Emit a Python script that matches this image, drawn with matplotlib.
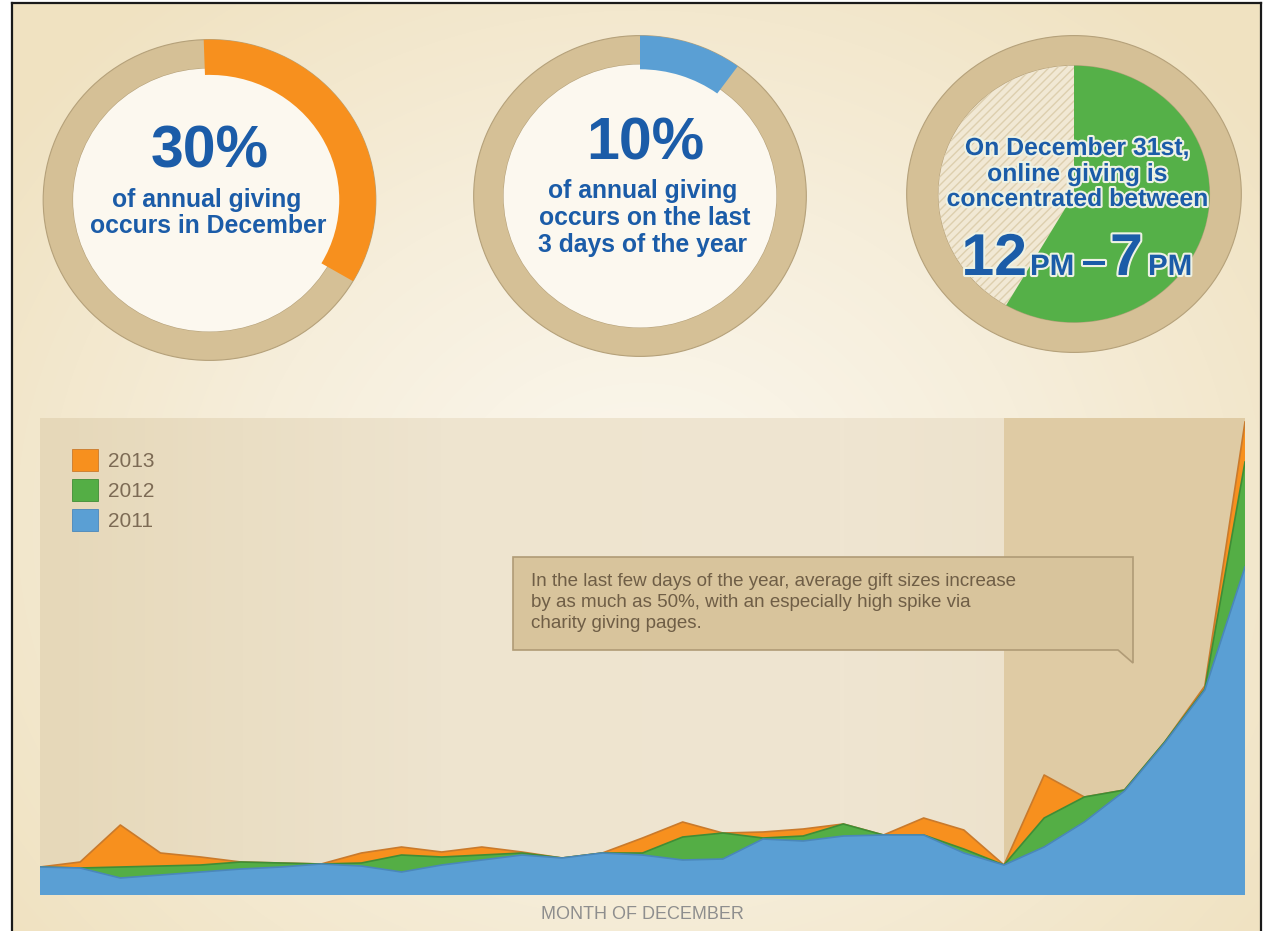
import numpy as np
import matplotlib.pyplot as plt
from matplotlib import font_manager as fm
from matplotlib.patches import Wedge, Circle, Polygon, Patch
from matplotlib.colors import LinearSegmentedColormap
import matplotlib.patheffects as pe

W, H = 1264, 931

# ---------------------------------------------------------------------------
# data
days = np.arange(1, 32)
giving_2011 = [28, 27, 17, 20, 23, 26, 28, 31, 29, 23, 30, 35, 40, 37, 42, 40,
               35, 36, 56, 54, 59, 60, 60, 42, 30, 48, 73, 104, 152, 205, 328]
giving_2012 = [28, 27, 28, 29, 30, 33, 32, 31, 32, 40, 38, 40, 42, 37, 42, 42,
               58, 62, 57, 59, 71, 60, 60, 46, 30, 77, 98, 105, 153, 206, 433]
giving_2013 = [28, 33, 70, 42, 38, 33, 32, 31, 42, 48, 43, 48, 43, 37, 42, 57,
               73, 62, 63, 66, 71, 60, 77, 65, 30, 120, 98, 105, 153, 209, 473]
years = ['2013', '2012', '2011']
last_days_from = 25

share_december = 30
share_last3 = 10
arc_fraction = [0.34, 0.10, 7 / 12]   # arc lengths as drawn in the rings

note = ("In the last few days of the year, average gift sizes increase\n"
        "by as much as 50%, with an especially high spike via\n"
        "charity giving pages.")

# ---------------------------------------------------------------------------
year_colors = ['#f7901e', '#54ae45', '#5a9fd4']
year_edges = ['#c97a2c', '#3f8d36', '#4a87ba']
tan = '#d5c096'
ring_edge = '#b5a17a'
txt_blue = '#1b5ca8'

names = {f.name for f in fm.fontManager.ttflist}
if 'Liberation Sans Narrow' in names:
    cond, k = 'Liberation Sans Narrow', 1.0
else:
    cond, k = 'Liberation Sans', 0.85
plt.rcParams['font.family'] = ['Liberation Sans', 'DejaVu Sans']


def box(x0, y0, w, h):
    return [x0 / W, 1 - (y0 + h) / H, w / W, h / H]


fig = plt.figure(figsize=(W / 100, H / 100), dpi=100, facecolor='white')

# background canvas in pixel coordinates
bg = fig.add_axes([0, 0, 1, 1], zorder=0)
bg.set_xlim(0, W)
bg.set_ylim(H, 0)
bg.axis('off')
yy, xx = np.mgrid[4:H:4, 13:1261:4]
d = np.sqrt(((xx - 640) / 720.0) ** 2 + ((yy - 520) / 620.0) ** 2)
bg_cmap = LinearSegmentedColormap.from_list('bg', ['#fcf8ef', '#f6eedb', '#f0e2c1'])
bg.imshow(d, extent=(13, 1261, H, 4), cmap=bg_cmap, vmin=0, vmax=1.1,
          aspect='auto', interpolation='bilinear')
bg.plot([12, 12], [H, 3], color='#1a1a1a', lw=1.6)
bg.plot([12, 1261], [3, 3], color='#1a1a1a', lw=1.6)
bg.plot([1261, 1261], [3, H], color='#1a1a1a', lw=1.6)


# ---------------------------------------------------------------------------
# the three rings
def ring_axes(cx, cy, rx, ry):
    a = fig.add_axes(box(cx - rx, cy - ry, 2 * rx, 2 * ry), zorder=2)
    a.set_xlim(-1.01, 1.01)
    a.set_ylim(-1.01, 1.01)
    a.set_aspect('auto')
    a.axis('off')
    return a


a1 = ring_axes(209.5, 200, 168, 162)
a1.add_patch(Wedge((0, 0), 1, 0, 360, width=0.18, fc=tan, ec=ring_edge, lw=0.8))
a1.add_patch(Circle((0, 0), 0.82, fc='#fcf8ef', ec='none'))
a1.add_patch(Wedge((0, 0), 1.0, 92 - 360 * arc_fraction[0], 92, width=0.22,
                   fc=year_colors[0], ec='none'))

a2 = ring_axes(640, 196, 168, 162)
a2.add_patch(Wedge((0, 0), 1, 0, 360, width=0.18, fc=tan, ec=ring_edge, lw=0.8))
a2.add_patch(Circle((0, 0), 0.82, fc='#fcf8ef', ec='none'))
a2.add_patch(Wedge((0, 0), 1.0, 90 - 360 * arc_fraction[1], 90, width=0.21,
                   fc=year_colors[2], ec='none'))

a3 = ring_axes(1074, 194, 169, 160)
a3.add_patch(Wedge((0, 0), 1, 0, 360, width=0.19, fc=tan, ec=ring_edge, lw=0.8))
a3.add_patch(Wedge((0, 0), 0.81, 90, 90 + 360 * (1 - arc_fraction[2]),
                   fc='#f1e8d4', ec='#ddcfae', hatch='////', lw=0))
a3.add_patch(Wedge((0, 0), 0.81, 90 - 360 * arc_fraction[2], 90,
                   fc='#55b048', ec='none'))

# ---------------------------------------------------------------------------
# area chart
ax = fig.add_axes(box(40, 418, 1205, 477), zorder=1)
grad = np.linspace(0, 1, 400).reshape(1, -1)
panel_cmap = LinearSegmentedColormap.from_list(
    'panel', ['#e6d8b9', '#eee4cf', '#efe5d1', '#eadfc6'])
ax.imshow(grad, extent=(1, 31, 0, 477), cmap=panel_cmap, aspect='auto',
          interpolation='bilinear', zorder=0)
ax.axvspan(last_days_from, 31, color='#dfcba4', zorder=0.5, lw=0)

series = [giving_2013, giving_2012, giving_2011]
for i, vals in enumerate(series):
    ax.fill_between(days, 0, vals, facecolor=year_colors[i], lw=0, zorder=1 + i)
    ax.plot(days, vals, color=year_edges[i], lw=1.2, zorder=1.1 + i)

ax.set_xlim(1, 31)
ax.set_ylim(0, 477)
ax.set_xticks([])
ax.set_yticks([])
for s in ax.spines.values():
    s.set_visible(False)
ax.set_xlabel('MONTH OF DECEMBER', fontsize=13, color='#8e8e8e', labelpad=8)

handles = [Patch(facecolor=year_colors[i], edgecolor=year_edges[i], lw=0.6)
           for i in range(3)]
leg = ax.legend(handles, years, loc='upper left', bbox_to_anchor=(0.0266, 0.935),
                frameon=False, fontsize=15, handlelength=1.24, handleheight=1.24,
                labelspacing=0.38, handletextpad=0.5, borderpad=0, borderaxespad=0)
for t in leg.get_texts():
    t.set_color('#7d6b55')

# ---------------------------------------------------------------------------
# texts and callout on top
ov = fig.add_axes([0, 0, 1, 1], zorder=5)
ov.set_xlim(0, W)
ov.set_ylim(H, 0)
ov.axis('off')
ov.patch.set_alpha(0)

bold = dict(family=[cond, 'DejaVu Sans'], fontweight='bold', color=txt_blue,
            va='baseline')
ov.text(210, 167, f'{share_december}%', ha='center', fontsize=50 * k, **bold)
ov.text(207, 207, 'of annual giving', ha='center', fontsize=21 * k, **bold)
ov.text(208, 233, 'occurs in December', ha='center', fontsize=21 * k, **bold)

ov.text(645, 160, f'{share_last3}%', ha='center', fontsize=50 * k, **bold)
ov.text(643, 198, 'of annual giving', ha='center', fontsize=21 * k, **bold)
ov.text(645, 225, 'occurs on the last', ha='center', fontsize=21 * k, **bold)
ov.text(642, 252, '3 days of the year', ha='center', fontsize=21 * k, **bold)

halo = [pe.withStroke(linewidth=3, foreground='#eef2e4')]
for y, line in [(155, 'On December 31st,'), (181, 'online giving is'),
                (206, 'concentrated between')]:
    ov.text(1077, y, line, ha='center', fontsize=21 * k, path_effects=halo, **bold)
ov.text(1027, 275, '12', ha='right', fontsize=50 * k, path_effects=halo, **bold)
ov.text(1030, 275, 'PM', ha='left', fontsize=25 * k, path_effects=halo, **bold)
ov.text(1094, 275, '\u2013', ha='center', fontsize=38 * k, path_effects=halo, **bold)
ov.text(1110, 275, '7', ha='left', fontsize=50 * k, path_effects=halo, **bold)
ov.text(1148, 275, 'PM', ha='left', fontsize=25 * k, path_effects=halo, **bold)

ov.add_patch(Polygon([(513, 557), (1133, 557), (1133, 663), (1118, 650), (513, 650)],
                     closed=True, fc='#d8c49c', ec='#b09b76', lw=1.2))
ov.text(531, 573, note, ha='left', va='top', fontsize=13.5, color='#6f5e46',
        linespacing=1.3)

fig.savefig('out.png', dpi=100, facecolor='white')
